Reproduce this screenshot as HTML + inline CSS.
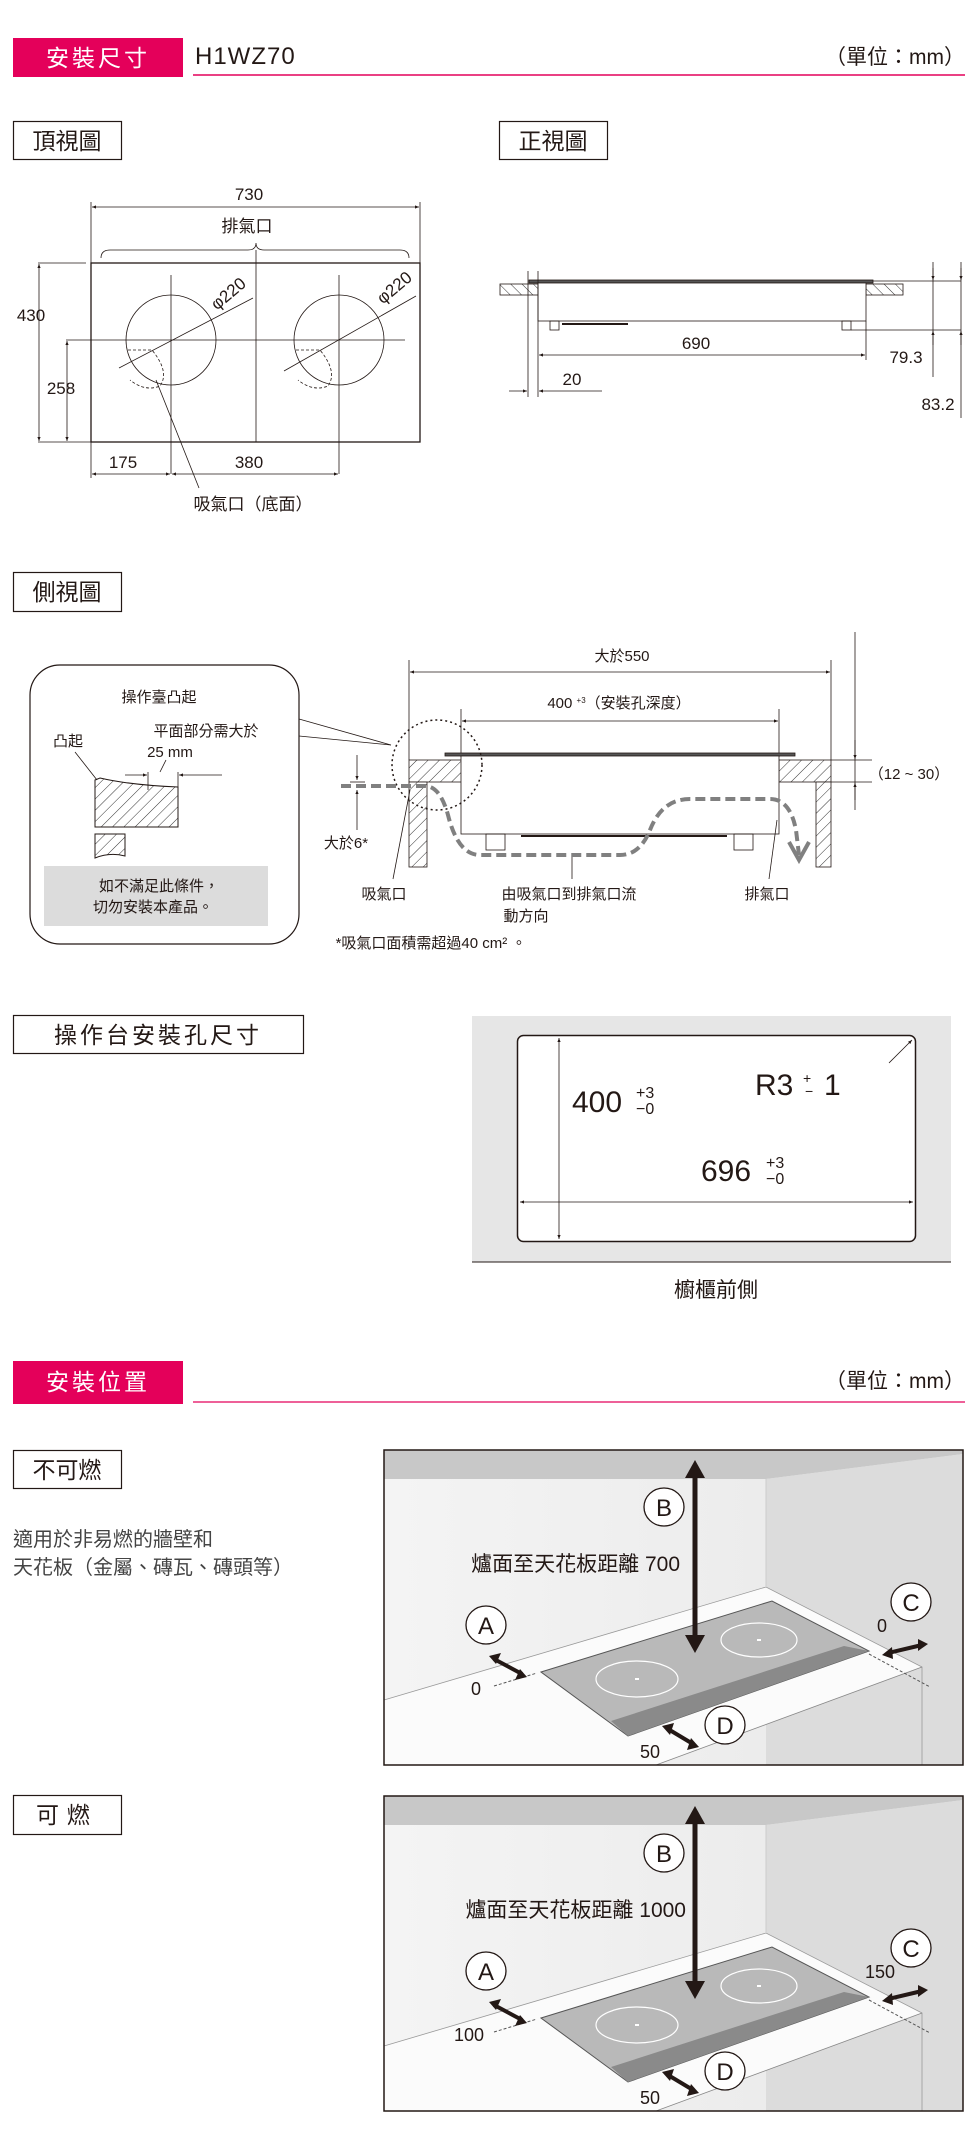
<!DOCTYPE html>
<html><head><meta charset="utf-8"><style>
html,body{margin:0;padding:0;background:#fff;}
svg{display:block;}
text{font-family:"Liberation Sans","Noto Sans CJK TC",sans-serif;fill:#231815;}
</style></head><body>
<svg width="976" height="2143" viewBox="0 0 976 2143" xmlns="http://www.w3.org/2000/svg">
<defs>
<pattern id="h" width="8" height="8" patternUnits="userSpaceOnUse" patternTransform="rotate(45)">
<rect width="8" height="8" fill="#fff"/><line x1="0" y1="0" x2="0" y2="8" stroke="#333" stroke-width="1"/></pattern>
<pattern id="h2" width="8" height="8" patternUnits="userSpaceOnUse" patternTransform="rotate(-45)">
<rect width="8" height="8" fill="#fff"/><line x1="0" y1="0" x2="0" y2="8" stroke="#333" stroke-width="1"/></pattern>
<marker id="a" viewBox="0 0 10 10" refX="10" refY="5" markerWidth="7" markerHeight="5" orient="auto-start-reverse"><path d="M0,1 L10,5 L0,9 z" fill="#231815"/></marker>
<linearGradient id="wall" x1="0" y1="0" x2="1" y2="0"><stop offset="0" stop-color="#f4f4f4"/><stop offset="1" stop-color="#e8e8e8"/></linearGradient>
<g id="illus">
<rect x="384" y="0" width="579" height="315" fill="url(#wall)"/>
<polygon points="384,0 963,0 963,4 766,29 384,29" fill="#c8c8c8"/>
<polygon points="766,29 963,4 963,315 766,315" fill="#dcdcdc"/>
<polygon points="384,250 766,137 922,217 656,315 384,315" fill="#fbfbfb"/>
<polyline points="384,250 766,137 922,217 922,315" fill="none" stroke="#999" stroke-width="0.8"/>
<line x1="766" y1="29" x2="766" y2="137" stroke="#ccc"/>
<line x1="922" y1="217" x2="656" y2="315" stroke="#888" stroke-width="0.8"/>
<polygon points="541,222 772,151 869,201 628,286" fill="#b9b9b9" stroke="#555" stroke-width="1"/>
<polygon points="611,271 844,196 869,201 628,286" fill="#8a8a8a"/>
<ellipse cx="637" cy="229" rx="41" ry="18" fill="none" stroke="#fff" stroke-width="1.2"/>
<ellipse cx="759" cy="190" rx="38" ry="17" fill="none" stroke="#fff" stroke-width="1.2"/>
<rect x="635" y="228" width="4" height="2" fill="#fff"/><rect x="757" y="189" width="4" height="2" fill="#fff"/>
<line x1="494" y1="236" x2="537" y2="223" stroke="#555" stroke-dasharray="3,2"/>
<line x1="869" y1="204" x2="930" y2="237" stroke="#555" stroke-dasharray="3,2"/>
<line x1="695" y1="22" x2="695" y2="192" stroke="#231815" stroke-width="5"/>
<polygon points="695,10 685,28 705,28" fill="#231815"/><polygon points="695,203 685,185 705,185" fill="#231815"/>
<g stroke="#231815" stroke-width="4">
<line x1="494" y1="209" x2="522" y2="224"/><line x1="888" y1="203" x2="922" y2="195"/><line x1="668" y1="279" x2="693" y2="294"/></g>
<polygon points="489,206 501,203 496,214" fill="#231815"/><polygon points="527,227 515,230 520,219" fill="#231815"/>
<polygon points="882,205 892,197 893,209" fill="#231815"/><polygon points="928,194 918,189 918,201" fill="#231815"/>
<polygon points="662,276 674,273 670,285" fill="#231815"/><polygon points="699,297 687,300 691,288" fill="#231815"/>
<g fill="#fff" stroke="#231815" stroke-width="1.3">
<ellipse cx="664" cy="57" rx="20" ry="19"/><ellipse cx="486" cy="175" rx="20" ry="19"/><ellipse cx="911" cy="152" rx="20" ry="19"/><ellipse cx="725" cy="275" rx="20" ry="19"/></g>
<g font-size="24" text-anchor="middle"><text x="664" y="66">B</text><text x="486" y="184">A</text><text x="911" y="161">C</text><text x="725" y="284">D</text></g>
<text x="650" y="308" font-size="18" text-anchor="middle">50</text>
<rect x="384" y="0" width="579" height="315" fill="none" stroke="#231815" stroke-width="1.5"/>
</g>
</defs>

<!-- Header 1 -->
<rect x="13" y="38" width="170" height="39" fill="#e4005a"/>
<text x="98" y="66" font-size="23" style="fill:#fff" text-anchor="middle" letter-spacing="3">安裝尺寸</text>
<text x="195" y="64" font-size="24" letter-spacing="1">H1WZ70</text>
<text x="965" y="64" font-size="21" text-anchor="end">（單位：mm）</text>
<line x1="193" y1="75" x2="965" y2="75" stroke="#e4005a" stroke-width="1.5"/>

<rect x="13.5" y="121.5" width="108" height="38" fill="none" stroke="#231815" stroke-width="1.2"/>
<text x="67" y="149" font-size="23" text-anchor="middle">頂視圖</text>
<rect x="499.5" y="121.5" width="108" height="38" fill="none" stroke="#231815" stroke-width="1.2"/>
<text x="553" y="149" font-size="23" text-anchor="middle">正視圖</text>

<!-- top view -->
<g stroke="#231815" stroke-width="0.8" fill="none">
<line x1="91" y1="202" x2="91" y2="263"/><line x1="420" y1="202" x2="420" y2="263"/>
<line x1="92" y1="207" x2="419" y2="207" marker-start="url(#a)" marker-end="url(#a)"/>
<path d="M101,258 Q101,250 110,250 L248,250 Q256,250 256,243 Q256,250 264,250 L400,250 Q409,250 409,258"/>
<rect x="91" y="263" width="329" height="179" stroke-width="1.3"/>
<line x1="256" y1="250" x2="256" y2="442"/>
<line x1="66" y1="340" x2="405" y2="340"/>
<line x1="171" y1="275" x2="171" y2="474"/><line x1="339" y1="275" x2="339" y2="474"/>
<circle cx="171" cy="340" r="45"/><circle cx="339" cy="340" r="45"/>
<path d="M128,350 L152,350 Q170,372 160,386 Q145,392 130,380" stroke-dasharray="3,2"/>
<path d="M296,350 L320,350 Q338,372 328,386 Q313,392 298,380" stroke-dasharray="3,2"/>
<line x1="119" y1="368" x2="253" y2="298"/><line x1="284" y1="371" x2="416" y2="296"/>
<line x1="38" y1="263" x2="86" y2="263"/><line x1="38" y1="442" x2="91" y2="442"/>
<line x1="39" y1="264" x2="39" y2="441" marker-start="url(#a)" marker-end="url(#a)"/>
<line x1="67" y1="341" x2="67" y2="441" marker-start="url(#a)" marker-end="url(#a)"/>
<line x1="91" y1="442" x2="91" y2="478"/>
<line x1="92" y1="474" x2="170" y2="474" marker-start="url(#a)" marker-end="url(#a)"/>
<line x1="172" y1="474" x2="338" y2="474" marker-start="url(#a)" marker-end="url(#a)"/>
<line x1="156" y1="380" x2="199" y2="488"/>
</g>
<g font-size="17" text-anchor="middle">
<text x="249" y="200">730</text><text x="247" y="232">排氣口</text>
<text x="31" y="321">430</text><text x="61" y="394">258</text>
<text x="123" y="468">175</text><text x="249" y="468">380</text>
<text x="253" y="510">吸氣口（底面）</text>
<text transform="translate(232,298) rotate(-40)">φ220</text>
<text transform="translate(398,292) rotate(-40)">φ220</text>
</g>

<!-- front view -->
<g stroke="#231815" stroke-width="0.8" fill="none">
<rect x="500" y="284" width="38" height="11" fill="url(#h2)"/>
<rect x="866" y="284" width="37" height="11" fill="url(#h2)"/>
<rect x="529" y="280" width="344" height="3" fill="#555"/>
<rect x="538" y="283" width="328" height="38" fill="#fff"/>
<rect x="550" y="321" width="9" height="9"/><rect x="842" y="321" width="9" height="9"/>
<line x1="562" y1="324" x2="628" y2="324" stroke-width="2"/>
<line x1="528" y1="271" x2="528" y2="397"/><line x1="538" y1="271" x2="538" y2="397"/>
<line x1="866" y1="321" x2="866" y2="360"/>
<line x1="539" y1="355" x2="865" y2="355" marker-start="url(#a)" marker-end="url(#a)"/>
<line x1="509" y1="391" x2="527" y2="391" marker-end="url(#a)"/>
<line x1="539" y1="391" x2="602" y2="391" marker-start="url(#a)"/>
<line x1="873" y1="281" x2="961" y2="281"/><line x1="851" y1="330" x2="961" y2="330"/>
<line x1="933" y1="262" x2="933" y2="377"/><line x1="961" y1="262" x2="961" y2="418"/>
<line x1="933" y1="268" x2="933" y2="280" marker-end="url(#a)"/><line x1="933" y1="345" x2="933" y2="331" marker-end="url(#a)"/>
<line x1="961" y1="268" x2="961" y2="280" marker-end="url(#a)"/><line x1="961" y1="345" x2="961" y2="331" marker-end="url(#a)"/>
</g>
<g font-size="17" text-anchor="middle">
<text x="696" y="349">690</text><text x="572" y="385">20</text><text x="906" y="363">79.3</text><text x="938" y="410">83.2</text>
</g>

<!-- side view -->
<rect x="13.5" y="572.5" width="108" height="39" fill="none" stroke="#231815" stroke-width="1.2"/>
<text x="67" y="600" font-size="23" text-anchor="middle">側視圖</text>
<rect x="30" y="665" width="269" height="279" rx="30" fill="none" stroke="#231815" stroke-width="1.2"/>
<g font-size="15" text-anchor="middle">
<text x="159" y="702">操作臺凸起</text><text x="68" y="746">凸起</text>
<text x="206" y="736">平面部分需大於</text><text x="170" y="757">25 mm</text>
</g>
<path d="M95,780 L95,827 L178,827 L178,787 Q130,785 100,778 Z" fill="url(#h)" stroke="#231815"/>
<path d="M95,834 L125,834 L125,856 Q110,852 95,858 Z" fill="url(#h)" stroke="#231815"/>
<g stroke="#231815" stroke-width="0.8" fill="none">
<line x1="75" y1="752" x2="97" y2="780"/>
<line x1="148" y1="772" x2="148" y2="790"/><line x1="178" y1="772" x2="178" y2="790"/>
<line x1="125" y1="775" x2="147" y2="775" marker-end="url(#a)"/><line x1="222" y1="775" x2="179" y2="775" marker-end="url(#a)"/>
<line x1="160" y1="772" x2="166" y2="760"/>
<line x1="299" y1="719" x2="391" y2="745"/><line x1="299" y1="736" x2="391" y2="745"/>
</g>
<rect x="44" y="866" width="224" height="60" fill="#dcdcdc"/>
<g font-size="15" text-anchor="middle"><text x="159" y="891">如不滿足此條件，</text><text x="153" y="912">切勿安裝本產品。</text></g>

<g stroke="#231815" stroke-width="0.8" fill="none">
<line x1="409" y1="660" x2="409" y2="760"/><line x1="831" y1="660" x2="831" y2="760"/>
<line x1="410" y1="672" x2="830" y2="672" marker-start="url(#a)" marker-end="url(#a)"/>
<line x1="461" y1="709" x2="461" y2="757"/><line x1="779" y1="709" x2="779" y2="757"/>
<line x1="462" y1="721" x2="778" y2="721" marker-start="url(#a)" marker-end="url(#a)"/>
<rect x="409" y="760" width="53" height="22" fill="url(#h)"/>
<rect x="779" y="760" width="52" height="22" fill="url(#h)"/>
<rect x="409" y="782" width="18" height="85" fill="url(#h)"/>
<rect x="816" y="782" width="15" height="85" fill="url(#h)"/>
<rect x="445" y="753" width="350" height="3" fill="#555"/>
<rect x="461" y="756" width="318" height="78" fill="#fff"/>
<rect x="486" y="834" width="19" height="16"/><rect x="734" y="834" width="19" height="16"/>
<line x1="521" y1="836" x2="727" y2="836" stroke-width="2"/>
<circle cx="437" cy="765" r="45" stroke-dasharray="2,3" stroke-width="1.5"/>
<line x1="855" y1="632" x2="855" y2="810"/>
<line x1="831" y1="760" x2="872" y2="760"/><line x1="831" y1="782" x2="872" y2="782"/>
<line x1="855" y1="740" x2="855" y2="759" marker-end="url(#a)"/><line x1="855" y1="800" x2="855" y2="783" marker-end="url(#a)"/>
<line x1="357" y1="755" x2="357" y2="780" marker-end="url(#a)"/><line x1="357" y1="830" x2="357" y2="790" marker-end="url(#a)"/>
<line x1="350" y1="782" x2="365" y2="782"/>
<line x1="393" y1="879" x2="410" y2="790"/><line x1="572" y1="879" x2="572" y2="857"/><line x1="769" y1="879" x2="777" y2="820"/>
</g>
<path d="M341,786 L425,786 Q440,786 448,815 Q458,855 480,855 L620,855 Q640,855 650,830 Q662,799 690,799 L770,799 Q790,799 796,830 L799,855" fill="none" stroke="#808080" stroke-width="4" stroke-dasharray="10,5"/>
<polyline points="789,842 799,860 809,842" fill="none" stroke="#808080" stroke-width="4"/>
<g font-size="15" text-anchor="middle">
<text x="622" y="661">大於550</text>
<text x="619" y="708">400 <tspan font-size="8" dy="-5">+3</tspan><tspan font-size="15" dy="5">（安裝孔深度）</tspan></text>
<text x="909" y="779">（12 ~ 30）</text>
<text x="346" y="848">大於6*</text>
<text x="384" y="899">吸氣口</text><text x="569" y="899">由吸氣口到排氣口流</text>
<text x="526" y="921">動方向</text><text x="767" y="899">排氣口</text>
<text x="431" y="948">*吸氣口面積需超過40 cm² 。</text>
</g>

<!-- cutout -->
<rect x="13.5" y="1015.5" width="290" height="38" fill="none" stroke="#231815" stroke-width="1.2"/>
<text x="158" y="1043" font-size="23" text-anchor="middle" letter-spacing="3">操作台安裝孔尺寸</text>
<rect x="472" y="1016" width="479" height="246" fill="#e6e6e6"/>
<line x1="472" y1="1262" x2="951" y2="1262" stroke="#231815"/>
<rect x="517.5" y="1035.5" width="398" height="206" rx="6" fill="#fff" stroke="#231815" stroke-width="1.5"/>
<g stroke="#231815" stroke-width="0.8">
<line x1="559" y1="1038" x2="559" y2="1239" marker-start="url(#a)" marker-end="url(#a)"/>
<line x1="520" y1="1202" x2="913" y2="1202" marker-start="url(#a)" marker-end="url(#a)"/>
<line x1="889" y1="1063" x2="912" y2="1040" marker-end="url(#a)"/>
</g>
<text x="572" y="1112" font-size="30">400</text>
<text x="636" y="1098" font-size="16">+3</text><text x="636" y="1114" font-size="16">−0</text>
<text x="755" y="1095" font-size="30">R3</text><text x="803" y="1083" font-size="14">+</text><text x="805" y="1096" font-size="14">−</text><text x="824" y="1095" font-size="30">1</text>
<text x="701" y="1181" font-size="30">696</text>
<text x="766" y="1168" font-size="16">+3</text><text x="766" y="1184" font-size="16">−0</text>
<text x="716" y="1297" font-size="21" text-anchor="middle">櫥櫃前側</text>

<!-- Header 2 -->
<rect x="13" y="1361" width="170" height="43" fill="#e4005a"/>
<text x="98" y="1390" font-size="23" style="fill:#fff" text-anchor="middle" letter-spacing="3">安裝位置</text>
<text x="965" y="1388" font-size="21" text-anchor="end">（單位：mm）</text>
<line x1="193" y1="1402" x2="965" y2="1402" stroke="#e4005a" stroke-width="1.2"/>

<rect x="13.5" y="1450.5" width="108" height="38" fill="none" stroke="#231815" stroke-width="1.2"/>
<text x="67" y="1478" font-size="23" text-anchor="middle">不可燃</text>
<text x="13" y="1546" font-size="20" style="fill:#444">適用於非易燃的牆壁和</text>
<text x="13" y="1574" font-size="20" style="fill:#444">天花板（金屬、磚瓦、磚頭等）</text>
<rect x="13.5" y="1795.5" width="108" height="39" fill="none" stroke="#231815" stroke-width="1.2"/>
<text x="67" y="1823" font-size="23" text-anchor="middle" letter-spacing="8">可燃</text>

<g transform="translate(0,1450)"><use href="#illus"/>
<text x="680" y="121" font-size="21" text-anchor="end">爐面至天花板距離 700</text>
<text x="476" y="245" font-size="18" text-anchor="middle">0</text>
<text x="882" y="182" font-size="18" text-anchor="middle">0</text>
</g>
<g transform="translate(0,1796)"><use href="#illus"/>
<text x="686" y="121" font-size="21" text-anchor="end">爐面至天花板距離 1000</text>
<text x="469" y="245" font-size="18" text-anchor="middle">100</text>
<text x="880" y="182" font-size="18" text-anchor="middle">150</text>
</g>
</svg>
</body></html>
